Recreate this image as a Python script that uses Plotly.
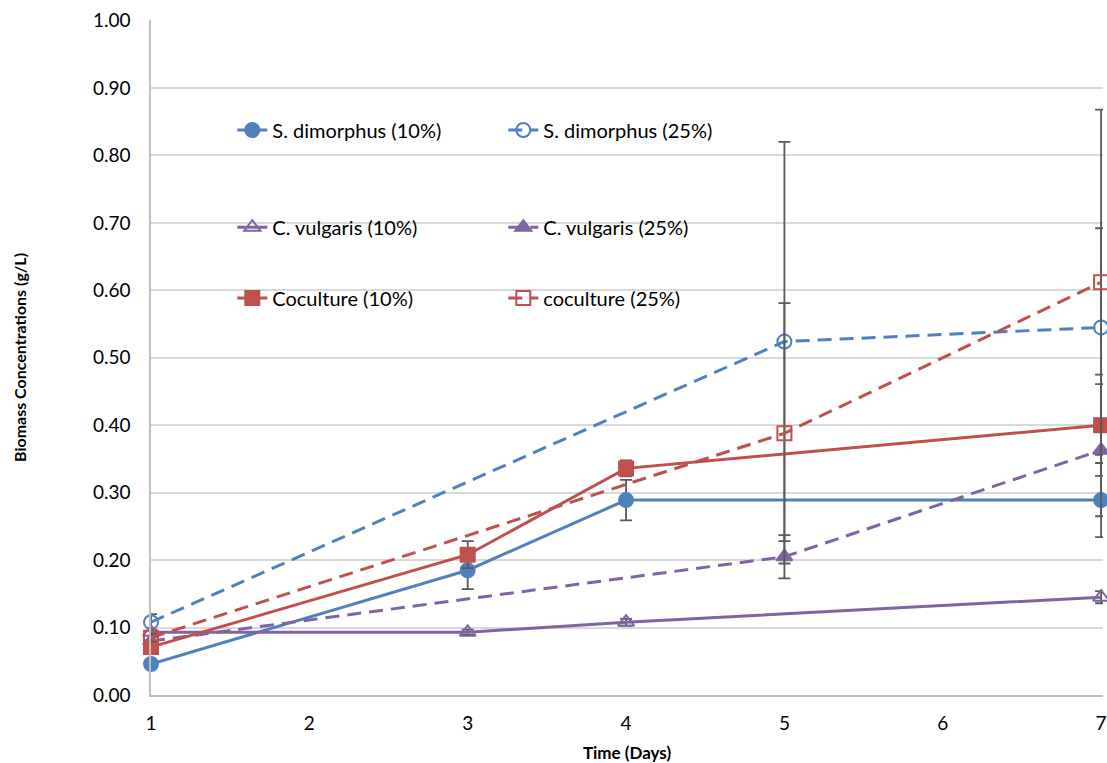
import plotly.graph_objects as go

# ---- data ----
days_a = [1, 3, 4, 7]          # 10% series sampling days
days_b = [1, 5, 7]             # 25% series sampling days

sd10 = [0.046, 0.185, 0.289, 0.289]
sd10_err = [0.006, 0.028, 0.030, 0.055]
sd25 = [0.108, 0.524, 0.545]
sd25_err = [0.012, 0.296, 0.147]

cv10 = [0.093, 0.093, 0.108, 0.145]
cv10_err = [0.004, 0.004, 0.005, 0.009]
cv25 = [0.080, 0.205, 0.363]
cv25_err = [0.006, 0.032, 0.098]

co10 = [0.071, 0.208, 0.336, 0.400]
co10_err = [0.008, 0.020, 0.012, 0.075]
co25 = [0.085, 0.388, 0.612]
co25_err = [0.006, 0.193, 0.256]

y_ticks = [round(i * 0.1, 2) for i in range(11)]
x_ticks = [1, 2, 3, 4, 5, 6, 7]

BLUE = "#4F81BD"
RED = "#C0504D"
PURPLE = "#8064A2"
ERR = "#595959"
FONT = "Lato"

fig = go.Figure()

def add(name, x, y, err, color, dash, symbol, legend):
    fig.add_trace(go.Scatter(
        x=x, y=y, name=name, mode="lines+markers",
        line=dict(color=color, width=3, dash=dash),
        marker=dict(symbol=symbol, size=14, color=color,
                    line=dict(color=color, width=2)),
        error_y=dict(type="data", array=err, visible=True,
                     color=ERR, thickness=1.8, width=6),
        cliponaxis=False, legend=legend,
    ))

DASH = "14px,8px"
add("S. dimorphus (10%)", days_a, sd10, sd10_err, BLUE, "solid", "circle", "legend")
add("S. dimorphus (25%)", days_b, sd25, sd25_err, BLUE, DASH, "circle-open", "legend")
add("C. vulgaris (10%)", days_a, cv10, cv10_err, PURPLE, "solid", "triangle-up-open", "legend2")
add("C. vulgaris (25%)", days_b, cv25, cv25_err, PURPLE, DASH, "triangle-up", "legend2")
add("Coculture (10%)", days_a, co10, co10_err, RED, "solid", "square", "legend3")
add("coculture (25%)", days_b, co25, co25_err, RED, DASH, "square-open", "legend3")

def leg(y):
    return dict(x=0.0854, y=y, xanchor="left", yanchor="middle",
                orientation="h", bgcolor="rgba(0,0,0,0)",
                font=dict(family=FONT, size=20, color="#000000"),
                entrywidth=226, entrywidthmode="pixels",
                itemclick=False, itemdoubleclick=False)

fig.update_layout(
    width=1107, height=763,
    margin=dict(l=151, r=4, t=20, b=68),
    paper_bgcolor="white", plot_bgcolor="white",
    font=dict(family=FONT, size=18, color="#000000"),
    showlegend=True,
    legend=leg(0.837),
    legend2=leg(0.693),
    legend3=leg(0.588),
    xaxis=dict(range=[1, 7.012], tickvals=x_ticks, showgrid=False,
               showline=True, linecolor="#BFBFBF", linewidth=1.5,
               zeroline=False, ticks="", tickfont=dict(size=19),
               automargin=False, ticklabelstandoff=10, ticklabeloverflow="allow",
               title=dict(text="<b>Time (Days)</b>", font=dict(size=17), standoff=22)),
    yaxis=dict(range=[0, 1.0008], tickvals=y_ticks, tickformat=".2f",
               showgrid=True, gridcolor="#D9D9D9", gridwidth=1.5,
               showline=True, linecolor="#BFBFBF", linewidth=1.5,
               zeroline=False, ticks="", tickfont=dict(size=19),
               automargin=False, ticklabelstandoff=15, ticklabeloverflow="allow",
               title=dict(text="<b>Biomass Concentrations (g/L)</b>", font=dict(size=16), standoff=62)),
)

# remove the default 8px page margin so the 1107x763 figure fills the window exactly
fig.write_html("out.html",
               config={"displayModeBar": False},
               post_script="document.body.style.margin='0';document.body.style.overflow='hidden';")
